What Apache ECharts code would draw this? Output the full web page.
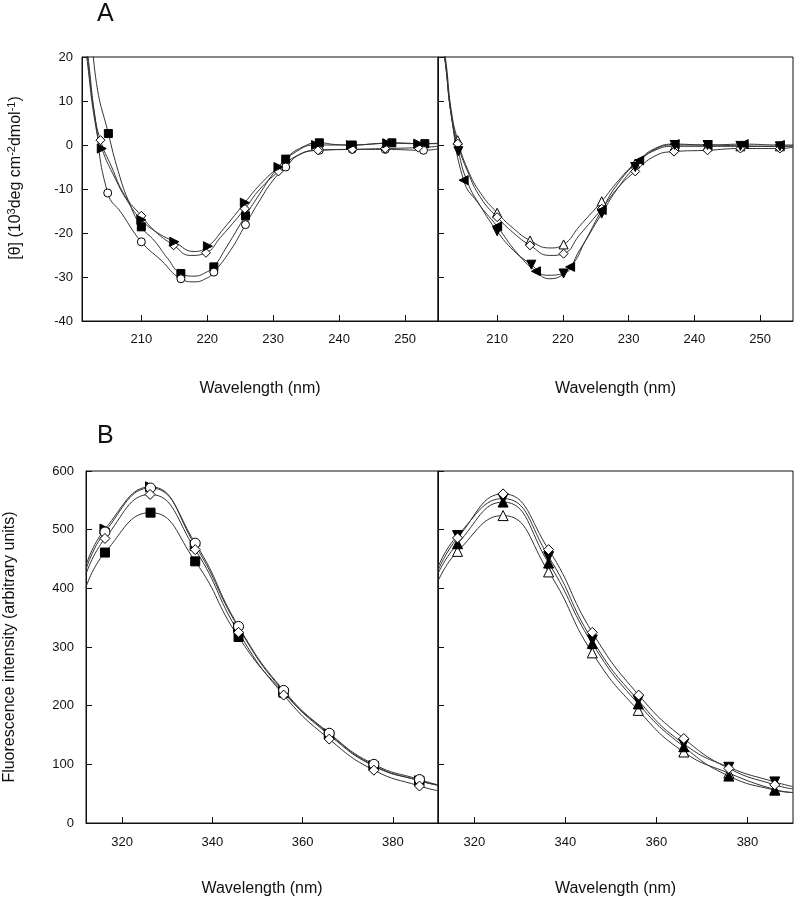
<!DOCTYPE html>
<html>
<head>
<meta charset="utf-8">
<script src="https://cdn.jsdelivr.net/npm/echarts@6/dist/echarts.min.js"></script>
<style>html,body{margin:0;padding:0;background:#fff}#c{width:794px;height:899px}</style>
</head>
<body>
<div id="c"></div>
<script>
// ---------- Panel A (CD spectra) ----------
const cdXTicks = [210, 220, 230, 240, 250];
// Left panel A
const aSqLine = [[202.4,28],[203.2,14],[205,2.6],[206.5,-6],[208,-12.5],[210,-18.6],[212,-21.8],[214,-25.8],[216,-29.2],[218,-29.8],[220,-28.8],[221,-27.7],[223,-23],[225.8,-16.1],[228,-11],[230,-6.5],[231.9,-3.2],[234,-0.8],[237,0.5],[239.5,0.1],[242,0],[245,0.2],[248,0.5],[253,0.3],[255,0.3]];
const aSqMarks = [[205,2.6],[210,-18.6],[216,-29.2],[221,-27.7],[225.8,-16.1],[231.9,-3.2],[237,0.5],[242,0],[248,0.5],[253,0.3]];
const aCiLine = [[201.3,28],[202,19],[203,6],[204.9,-10.9],[207,-15.5],[210,-22.0],[213,-26.2],[216,-30.4],[218,-31.1],[220,-30.2],[221,-28.9],[223.5,-24],[225.8,-18.1],[228,-12.5],[230,-8],[231.9,-5.0],[234,-2.2],[237,-1.2],[242,-1.0],[247,-1.0],[252.8,-1.2],[255,-0.9]];
const aCiMarks = [[204.9,-10.9],[210,-22.0],[216,-30.4],[221,-28.9],[225.8,-18.1],[231.9,-5.0],[237,-1.2],[242,-1.0],[247,-1.0],[252.8,-1.2]];
const aDiLine = [[201.2,28],[201.9,19],[202.8,8],[203.8,1.1],[205.5,-5],[207.5,-11.5],[210,-16.1],[212,-19.5],[214.9,-22.8],[217.5,-25.1],[219.8,-24.5],[222,-21],[225.7,-14.5],[228,-10],[230.8,-6.0],[233.5,-2.5],[236.8,-1.2],[242,-1.0],[247,-0.8],[252,-0.6],[255,-0.3]];
const aDiMarks = [[203.8,1.1],[210,-16.1],[214.9,-22.8],[219.8,-24.5],[225.7,-14.5],[230.8,-6.0],[236.8,-1.2],[242,-1.0],[247,-0.8],[252,-0.6]];
const aTrLine = [[201.1,28],[201.8,19],[203,5],[204,-0.8],[206,-7.5],[208,-13],[210,-17],[212,-19.5],[215,-22.0],[218,-24.2],[220.1,-23],[222.5,-19],[225.7,-13.1],[228,-9],[230.8,-5.0],[233.5,-1.5],[236.5,0],[241.8,0],[247.3,0.4],[252,0.3],[255,0.4]];
const aTrMarks = [[204,-0.8],[210,-17],[215,-22.0],[220.1,-23],[225.7,-13.1],[230.8,-5.0],[236.5,0],[241.8,0],[247.3,0.4],[252,0.3]];
// Right panel A
const aTuLine = [[201.3,28],[202.2,19],[203,8],[204,1.1],[205.5,-5.5],[207.5,-11],[210,-15.4],[212.5,-19],[215,-21.7],[218,-23.4],[220.1,-22.6],[222.5,-18.5],[225.9,-12.8],[228.5,-8],[231,-4.2],[234,-1.2],[237,-0.3],[242,-0.3],[247,-0.3],[253,-0.3],[255,-0.2]];
const aTuMarks = [[204,1.1],[210,-15.4],[215,-21.7],[220.1,-22.6],[225.9,-12.8],[231,-4.2],[237,-0.3],[242,-0.3],[247,-0.3],[253,-0.3]];
const aDi2Line = [[201.2,28],[202.1,19],[203,7],[204,0.3],[205.5,-6],[207.5,-12],[210,-16.4],[212.5,-20],[215,-22.8],[218,-25.1],[220.1,-24.7],[222.5,-20.5],[225.9,-14.5],[228.5,-9.5],[231,-6.0],[234,-2.5],[236.9,-1.5],[242,-1.2],[247,-0.8],[253,-0.8],[255,-0.5]];
const aDi2Marks = [[204,0.3],[210,-16.4],[215,-22.8],[220.1,-24.7],[225.9,-14.5],[231,-6.0],[236.9,-1.5],[242,-1.2],[247,-0.8],[253,-0.8]];
const aTdLine = [[201.2,28],[202.1,19],[203,7],[204.1,-1.4],[205.5,-8.5],[207.5,-14],[210,-19.6],[212.5,-24],[215.2,-27.2],[217.5,-29.6],[220.1,-29.2],[222.5,-24],[225.9,-15.6],[228.5,-9.5],[231,-5.0],[234,-1],[237,0],[242,0],[247,-0.2],[253,-0.3],[255,-0.3]];
const aTdMarks = [[204.1,-1.4],[210,-19.6],[215.2,-27.2],[220.1,-29.2],[225.9,-15.6],[231,-5.0],[237,0],[242,0],[247,-0.2],[253,-0.3]];
const aTlLine = [[201.2,28],[202.1,19],[203,7],[204.9,-8.0],[207,-13],[210,-18.5],[213,-24.5],[215.9,-28.7],[218,-30.4],[221.1,-27.7],[223.5,-21.5],[225.9,-14.8],[228.5,-8.5],[231.6,-3.5],[234,-0.8],[237,0.2],[242,0],[247.5,0.2],[253,0],[255,0]];
const aTlMarks = [[204.9,-8.0],[210,-18.5],[215.9,-28.7],[221.1,-27.7],[225.9,-14.8],[231.6,-3.5],[237,0.2],[242,0],[247.5,0.2],[253,0]];

// ---------- Panel B (fluorescence) ----------
const flXTicks = [320, 340, 360, 380];
const bCiLine = [[312,432],[316.2,496],[326.3,571],[336.2,477],[345.8,335],[355.8,226],[365.9,153],[375.8,100],[385.9,74],[390,65]];
const bTrLine = [[312,439],[316.2,501],[326.3,573],[336.2,473],[345.8,333],[355.8,224],[365.9,152],[375.8,98],[385.9,72],[390,65]];
const bDiLine = [[312,424],[316.2,485],[326.2,560],[336.2,466],[345.8,325],[355.8,218],[365.9,143],[375.8,90],[385.9,63],[390,55]];
const bSqLine = [[312,402],[316.2,461],[326.3,529],[336.2,446],[345.8,317],[355.8,222],[365.9,150],[375.8,97],[385.9,72],[390,64]];
const bDi2Line = [[312,430],[316.3,486],[326.3,561],[336.3,466],[345.9,325],[356.1,218],[366,144],[375.9,93],[386,65],[390,58]];
const bTdLine = [[312,436],[316.3,490],[326.3,553],[336.3,454],[345.9,312],[356,209],[366,135],[375.9,95],[386,70],[390,62]];
const bTufLine = [[312,425],[316.3,476],[326.3,547],[336.3,443],[345.9,306],[356,203],[366,130],[375.9,80],[386,56],[390,52]];
const bTuLine = [[312,412],[316.3,463],[326.3,524],[336.3,428],[345.9,290],[356,192],[366,121],[375.9,85],[386,57],[390,52]];

const INK = '#111';
const LINE = '#333';
const FONT = 'Liberation Sans, Arial, sans-serif';

function pair(gi, line, marks, symbol, filled, rot, size) {
  return [
    { type: 'line', xAxisIndex: gi, yAxisIndex: gi, data: line, showSymbol: false, symbol: 'none',
      smooth: 0.5, lineStyle: { color: LINE, width: 1 }, z: 2, silent: true, animation: false },
    { type: 'scatter', xAxisIndex: gi, yAxisIndex: gi, data: marks, symbol: symbol, symbolSize: size,
      symbolRotate: rot, itemStyle: { color: filled ? '#000' : '#fff', borderColor: '#000', borderWidth: 1, opacity: 1 },
      z: 3, silent: true, animation: false }
  ];
}
const innerMarks = l => l.filter(p => p[0] > 312 && p[0] < 390);

const grids = [
  { left: 82, top: 57, width: 356, height: 264 },
  { left: 438, top: 57, width: 355, height: 264 },
  { left: 86, top: 471, width: 352, height: 352 },
  { left: 438, top: 471, width: 355, height: 352 }
].map(g => Object.assign(g, { show: true, borderColor: INK, borderWidth: 1, backgroundColor: 'transparent' }));

function xAx(gi, min, max, ticks, gap, margin) {
  return {
    type: 'value', gridIndex: gi, min: min, max: max,
    name: 'Wavelength (nm)', nameLocation: 'middle', nameGap: gap,
    nameTextStyle: { fontFamily: FONT, fontSize: 16, color: INK },
    axisLine: { show: true, onZero: false, lineStyle: { color: INK, width: 1 } },
    axisTick: { show: true, inside: true, length: 6, customValues: ticks, lineStyle: { color: INK } },
    axisLabel: { show: true, customValues: ticks, fontFamily: FONT, fontSize: 13, color: INK, margin: margin },
    splitLine: { show: false }
  };
}
function yAx(gi, min, max, interval, showLabels, name, gap, margin, extra) {
  return Object.assign({
    type: 'value', gridIndex: gi, min: min, max: max, interval: interval,
    name: name || '', nameLocation: 'middle', nameGap: gap || 0,
    axisLine: { show: true, onZero: false, lineStyle: { color: INK, width: 1 } },
    axisTick: { show: true, inside: true, length: 6, lineStyle: { color: INK } },
    axisLabel: { show: showLabels, fontFamily: FONT, fontSize: 13, color: INK, margin: margin || 8 },
    splitLine: { show: false }
  }, extra || {});
}

const option = {
  animation: false,
  backgroundColor: '#fff',
  title: [
    { text: 'A', left: 92, top: -3, textStyle: { fontFamily: FONT, fontSize: 25, fontWeight: 'normal', color: INK } },
    { text: 'B', left: 92, top: 419, textStyle: { fontFamily: FONT, fontSize: 25, fontWeight: 'normal', color: INK } }
  ],
  grid: grids,
  xAxis: [
    xAx(0, 201, 255, cdXTicks, 60, 12),
    xAx(1, 201, 255, cdXTicks, 60, 12),
    xAx(2, 312, 390, flXTicks, 58, 13),
    xAx(3, 312, 390, flXTicks, 58, 13)
  ],
  yAxis: [
    yAx(0, -40, 20, 10, true, '[θ] (10{s|3}deg cm{s|-2}dmol{s|-1})', 56, 9, {
      nameTextStyle: { fontFamily: FONT, fontSize: 16, color: INK, padding: [0, 0, 0, 22],
        rich: { s: { fontFamily: FONT, fontSize: 11, color: INK, padding: [0, 0, 9, 0] } } }
    }),
    yAx(1, -40, 20, 10, false),
    yAx(2, 0, 600, 100, true, 'Fluorescence intensity (arbitrary units)', 68, 12, {
      nameTextStyle: { fontFamily: FONT, fontSize: 16, color: INK }
    }),
    yAx(3, 0, 600, 100, false)
  ],
  series: [].concat(
    pair(0, aSqLine, aSqMarks, 'rect', true, 0, 8),
    pair(0, aCiLine, aCiMarks, 'circle', false, 0, 8),
    pair(0, aDiLine, aDiMarks, 'diamond', false, 0, 9),
    pair(0, aTrLine, aTrMarks, 'triangle', true, -90, 9),
    pair(1, aTuLine, aTuMarks, 'triangle', false, 0, 9),
    pair(1, aDi2Line, aDi2Marks, 'diamond', false, 0, 9),
    pair(1, aTdLine, aTdMarks, 'triangle', true, 180, 9),
    pair(1, aTlLine, aTlMarks, 'triangle', true, 90, 9),
    pair(2, bSqLine, innerMarks(bSqLine), 'rect', true, 0, 9),
    pair(2, bTrLine, innerMarks(bTrLine), 'triangle', true, -90, 10),
    pair(2, bCiLine, innerMarks(bCiLine), 'circle', false, 0, 10),
    pair(2, bDiLine, innerMarks(bDiLine), 'diamond', false, 0, 10),
    pair(3, bTuLine, innerMarks(bTuLine), 'triangle', false, 0, 10),
    pair(3, bTufLine, innerMarks(bTufLine), 'triangle', true, 0, 10),
    pair(3, bTdLine, innerMarks(bTdLine), 'triangle', true, 180, 10),
    pair(3, bDi2Line, innerMarks(bDi2Line), 'diamond', false, 0, 10)
  )
};
const chart = echarts.init(document.getElementById('c'), null, { renderer: 'canvas' });
chart.setOption(option);
</script>
</body>
</html>
